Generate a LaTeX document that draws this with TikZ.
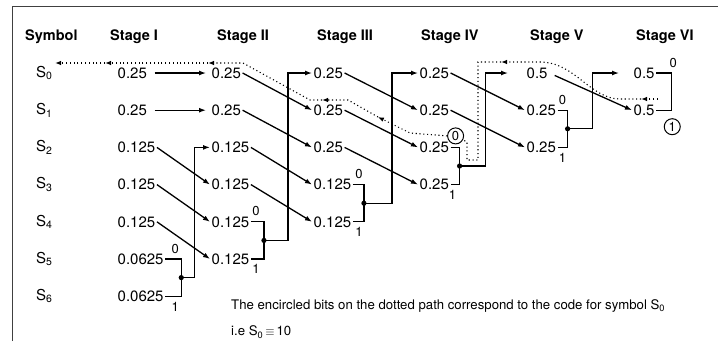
\documentclass[tikz,border=0pt]{standalone}
\usepackage{fontspec}
\setmainfont{TeX Gyre Heros}
\usetikzlibrary{arrows.meta,calc}

\tikzset{
  hdr/.style={anchor=west, inner sep=0pt, font=\fontsize{14.5}{17}\selectfont\bfseries},
  sym/.style={anchor=west, inner sep=0pt, font=\fontsize{15}{18}\selectfont},
  val/.style={anchor=west, inner sep=1.5pt, font=\fontsize{15}{18}\selectfont},
  bit/.style={inner sep=0pt, font=\fontsize{13}{15}\selectfont},
  cbit/.style={circle, draw, line width=1pt, inner sep=0pt, minimum size=16pt, font=\fontsize{13}{15}\selectfont},
  note/.style={anchor=west, inner sep=0pt, font=\fontsize{13.2}{15}\selectfont},
  brk/.style={line width=1.3pt},
  link/.style={line width=1.3pt, -{Latex[length=7pt,width=5pt]}},
  dotpath/.style={line width=1.1pt, dash pattern=on 1.1pt off 2.7pt, -{Latex[length=6pt,width=4.5pt]}},
}

\begin{document}
\begin{tikzpicture}[x=1pt, y=-1pt]
\useasboundingbox (0,0) rectangle (718,341);
% frame
\draw[line width=1pt, black!75] (12,341) -- (12,6) -- (718,6);

% headings
\node[hdr] (hsym) at (25,37) {Symbol};
\node[hdr] (hone) at (110,37) {Stage I};
\node[hdr] (htwo) at (217,37) {Stage II};
\node[hdr] (hthree) at (317,37) {Stage III};
\node[hdr] (hfour) at (421,37) {Stage IV};
\node[hdr] (hfive) at (530,37) {Stage V};
\node[hdr] (hsix) at (636,37) {Stage VI};

% symbols and probabilities
\foreach \r in {0,...,6}
  \node[sym] (sym\r) at (36,{73+37.2*\r}) {S\textsubscript{\r}};
\foreach \v [count=\r from 0] in {0.25,0.25,0.125,0.125,0.125,0.0625,0.0625}
  \node[val] (one\r) at (116,{73+37.2*\r}) {\v};
\foreach \v [count=\r from 0] in {0.25,0.25,0.125,0.125,0.125,0.125}
  \node[val] (two\r) at (210,{73+37.2*\r}) {\v};
\foreach \v [count=\r from 0] in {0.25,0.25,0.25,0.125,0.125}
  \node[val] (three\r) at (312,{73+37.2*\r}) {\v};
\foreach \v [count=\r from 0] in {0.25,0.25,0.25,0.25}
  \node[val] (four\r) at (418,{73+37.2*\r}) {\v};
\foreach \v [count=\r from 0] in {0.5,0.25,0.25}
  \node[val] (five\r) at (525,{73+37.2*\r}) {\v};
\foreach \v [count=\r from 0] in {0.5,0.5}
  \node[val] (six\r) at (632,{73+37.2*\r}) {\v};

% moves down one row
\draw[link, shorten <=6pt, shorten >=4pt] (one0.east) -- (two0.west);
\draw[link, shorten <=6pt, shorten >=4pt] (one1.east) -- (two1.west);
\foreach \a/\b in {one2/two3, one3/two4, one4/two5,
                   two0/three1, two1/three2, two2/three3, two3/three4,
                   three0/four1, three1/four2, three2/four3,
                   four0/five1, four1/five2}
  \draw[link] (\a.east) -- (\b.west);
\draw[link, shorten <=6pt] (five0.east) -- (six1.west);

% stage I merge
\draw[brk] (one5.east) -- ++(16,0) node[bit, above=5pt, xshift=-6pt] {0}
  |- node[pos=0.5, bit, below=5pt, xshift=-6pt] {1} (one6.east);
\coordinate (j1) at ($(one5.east)!.5!(one6.east)+(16,0)$);
\fill (j1) circle (2.6);
\draw[link] (j1) -- ++(13,0) |- (two2.west);

% stage II merge
\draw[brk] (two4.east) -- ++(13,0) node[bit, above=5pt, xshift=-8pt] {0}
  |- node[pos=0.5, bit, below=5pt, xshift=-8pt] {1} (two5.east);
\coordinate (j2) at ($(two4.east)!.5!(two5.east)+(13,0)$);
\fill (j2) circle (2.6);
\draw[link] (j2) -- ++(24,0) |- (three0.west);

% stage III merge
\draw[brk] (three3.east) -- ++(11,0) node[bit, above=5pt, xshift=-5pt] {0}
  |- node[pos=0.5, bit, below=5pt, xshift=-5pt] {1} (three4.east);
\coordinate (j3) at ($(three3.east)!.5!(three4.east)+(11,0)$);
\fill (j3) circle (2.6);
\draw[link] (j3) -- ++(28,0) |- (four0.west);

% stage IV merge
\draw[brk] (four2.east) -- ++(9,0) node[cbit, above=3pt, xshift=-4pt] (enc0) {0}
  |- node[pos=0.5, bit, below=5pt, xshift=-7pt] {1} (four3.east);
\coordinate (j4) at ($(four2.east)!.5!(four3.east)+(9,0)$);
\fill (j4) circle (2.6);
\draw[link, shorten >=17pt] (j4) -- ++(26,0) |- (five0.west);

% stage V merge
\draw[brk] (five1.east) -- ++(10,0) node[bit, above=5pt, xshift=-5pt] {0}
  |- node[pos=0.5, bit, below=5pt, xshift=-5pt] {1} (five2.east);
\coordinate (j5) at ($(five1.east)!.5!(five2.east)+(10,0)$);
\fill (j5) circle (2.6);
\draw[link, shorten >=13pt] (j5) -- ++(25,0) |- (six0.west);

% stage VI
\draw[brk] (six0.east) -- ++(15,0) node[bit, above=5pt, xshift=2pt] {0}
  |- node[pos=0.5, cbit, below=8pt, xshift=1pt] (enc1) {1} (six1.east);

% dotted path back to S0
\draw[dotpath] (658,99) -- (641,99);
\draw[dotpath] (641,99) -- (620,99) .. controls (590,99) and (575,62) .. (540,62) -- (501,62);
\draw[dotpath, -] (501,62) -- (478,62) -- (478,160) -- (467,160) -- (467,142) -- (enc0);
\draw[dotpath] (enc0.west) -- (410,133) -- (378,117);
\draw[dotpath] (378,117) -- (348,100) -- (322,100);
\draw[dotpath] (322,100) -- (310,100) -- (243,63) -- (208,63);
\draw[dotpath] (208,63) -- (105,63);
\draw[dotpath] (105,63) -- (55,63);

% note
\node[note] (note1) at (231,306) {The encircled bits on the dotted path correspond to the code for symbol S\textsubscript{0}};
\node[note] (note2) at (231,332) {i.e S\textsubscript{0}$\,\equiv\,$10};
\end{tikzpicture}
\end{document}
